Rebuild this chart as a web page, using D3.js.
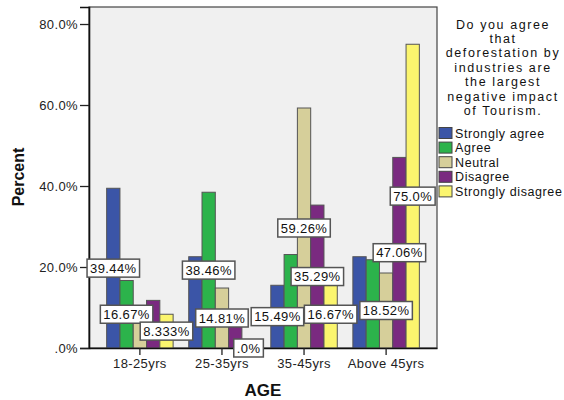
<!DOCTYPE html>
<html>
<head>
<meta charset="utf-8">
<script src="https://cdn.jsdelivr.net/npm/d3@7"></script>
<style>
  html, body { margin: 0; padding: 0; background: #fff; }
  svg { display: block; }
  text { font-family: "Liberation Sans", Arial, sans-serif; }
</style>
</head>
<body>
<svg id="chart" width="564" height="400"></svg>
<script>
// ---- data ----
const categories = ["18-25yrs", "25-35yrs", "35-45yrs", "Above 45yrs"];
const seriesNames = ["Strongly agree", "Agree", "Neutral", "Disagree", "Strongly disagree"];
const stronglyAgree    = [39.44, 22.54, 15.49, 22.54];
const agree            = [16.67, 38.46, 23.08, 21.79];
const neutral          = [7.41, 14.81, 59.26, 18.52];
const disagree         = [11.76, 5.88, 35.29, 47.06];
const stronglyDisagree = [8.333, 0.0, 16.67, 75.0];
// data labels that are visible in the reference (per series, per category)
const labelsStronglyAgree    = ["39.44%", null, "15.49%", null];
const labelsAgree            = ["16.67%", "38.46%", null, null];
const labelsNeutral          = [null, "14.81%", "59.26%", "18.52%"];
const labelsDisagree         = [null, null, "35.29%", "47.06%"];
const labelsStronglyDisagree = ["8.333%", ".0%", "16.67%", "75.0%"];
const yTicks = [0, 20, 40, 60, 80];
const yTickLabels = [".0%", "20.0%", "40.0%", "60.0%", "80.0%"];
const legendTitleLines = ["Do you agree", "that", "deforestation by", "industries are", "the largest", "negative impact", "of Tourism."];
const xTitle = "AGE";
const yTitle = "Percent";

const seriesValues = [stronglyAgree, agree, neutral, disagree, stronglyDisagree];
const seriesLabels = [labelsStronglyAgree, labelsAgree, labelsNeutral, labelsDisagree, labelsStronglyDisagree];
const colors = ["#3b55a7", "#2cb34b", "#d6cf9a", "#7a2a80", "#fbf56e"];

// ---- layout ----
const L = 89, R = 437, T = 7, B = 348;
const svg = d3.select("#chart");

const x0 = d3.scaleBand().domain(categories).range([L, R]).paddingInner(0.19).paddingOuter(0.215);
const x1 = d3.scaleBand().domain(d3.range(seriesNames.length)).range([0, x0.bandwidth()]).padding(0);
const y = d3.scaleLinear().domain([0, 84.2]).range([B, T]);
const color = d3.scaleOrdinal().domain(d3.range(seriesNames.length)).range(colors);

// plot background
svg.append("rect").attr("x", L).attr("y", T).attr("width", R - L).attr("height", B - T)
  .attr("fill", "#f0f0f0").attr("stroke", "#444").attr("stroke-width", 1.2);

// bars
const groups = svg.append("g").selectAll("g").data(categories).join("g")
  .attr("transform", d => `translate(${x0(d)},0)`);
groups.selectAll("rect")
  .data((c, ci) => seriesValues.map((vals, si) => ({ si, v: vals[ci] })))
  .join("rect")
  .attr("x", d => x1(d.si))
  .attr("y", d => y(d.v))
  .attr("width", x1.bandwidth())
  .attr("height", d => y(0) - y(d.v))
  .attr("fill", d => color(d.si))
  .attr("stroke", "#555")
  .attr("stroke-width", 1);

// axes
const yAxis = d3.axisLeft(y).tickValues(yTicks).tickFormat((d, i) => yTickLabels[i]).tickSize(9).tickPadding(2);
const gy = svg.append("g").attr("transform", `translate(${L},0)`).call(yAxis);
gy.select(".domain").attr("stroke", "#111").attr("stroke-width", 1.6);
gy.selectAll(".tick line").attr("stroke", "#222").attr("stroke-width", 1.3);
gy.selectAll(".tick text").attr("font-size", 13).attr("letter-spacing", 0.4).attr("fill", "#222")
  .attr("font-family", "Liberation Sans, Arial, sans-serif");

const xAxis = d3.axisBottom(x0).tickSize(7).tickPadding(4).tickSizeOuter(0);
const gx = svg.append("g").attr("transform", `translate(0,${B})`).call(xAxis);
gx.select(".domain").attr("stroke", "#111").attr("stroke-width", 1.6);
gx.selectAll(".tick line").attr("stroke", "#222").attr("stroke-width", 1.3);
gx.selectAll(".tick text").attr("font-size", 13).attr("letter-spacing", 0.4).attr("fill", "#222")
  .attr("font-family", "Liberation Sans, Arial, sans-serif");

// data labels
const lblG = svg.append("g");
seriesValues.forEach((vals, si) => {
  categories.forEach((c, ci) => {
    const txt = seriesLabels[si][ci];
    if (!txt) return;
    const cx = x0(c) + x1(si) + x1.bandwidth() / 2;
    const cy = (y(vals[ci]) + y(0)) / 2;
    const g = lblG.append("g");
    const t = g.append("text").attr("x", cx).attr("y", cy + 4.6)
      .attr("text-anchor", "middle").attr("font-size", 13).attr("letter-spacing", 0.4)
      .attr("fill", "#111").text(txt);
    const w = t.node().getComputedTextLength() + 6;
    g.insert("rect", "text").attr("x", cx - w / 2).attr("y", cy - 9).attr("width", w).attr("height", 18)
      .attr("fill", "#fff").attr("stroke", "#555").attr("stroke-width", 1.5);
  });
});

// axis titles
svg.append("text").attr("x", (L + R) / 2 + 0).attr("y", 396).attr("text-anchor", "middle")
  .attr("font-size", 17).attr("font-weight", "bold").attr("fill", "#111").text(xTitle);
svg.append("text").attr("transform", `translate(24,177) rotate(-90)`).attr("text-anchor", "middle")
  .attr("font-size", 16).attr("font-weight", "bold").attr("fill", "#111").text(yTitle);

// legend
const lg = svg.append("g");
lg.selectAll("text.title").data(legendTitleLines).join("text").attr("class", "title")
  .attr("x", 503).attr("y", (d, i) => 28.5 + i * 14.4)
  .attr("text-anchor", "middle").attr("font-size", 12.5).attr("letter-spacing", 1.6)
  .attr("fill", "#111").text(d => d);
const items = lg.selectAll("g.item").data(seriesNames).join("g").attr("class", "item")
  .attr("transform", (d, i) => `translate(439,${137.5 + i * 14.6})`);
items.append("rect").attr("x", 0).attr("y", -10).attr("width", 13).attr("height", 11)
  .attr("fill", (d, i) => color(i)).attr("stroke", "#444").attr("stroke-width", 1);
items.append("text").attr("x", 16).attr("y", 0).attr("font-size", 12.5).attr("letter-spacing", 0.6)
  .attr("fill", "#111").text(d => d);
</script>
</body>
</html>
